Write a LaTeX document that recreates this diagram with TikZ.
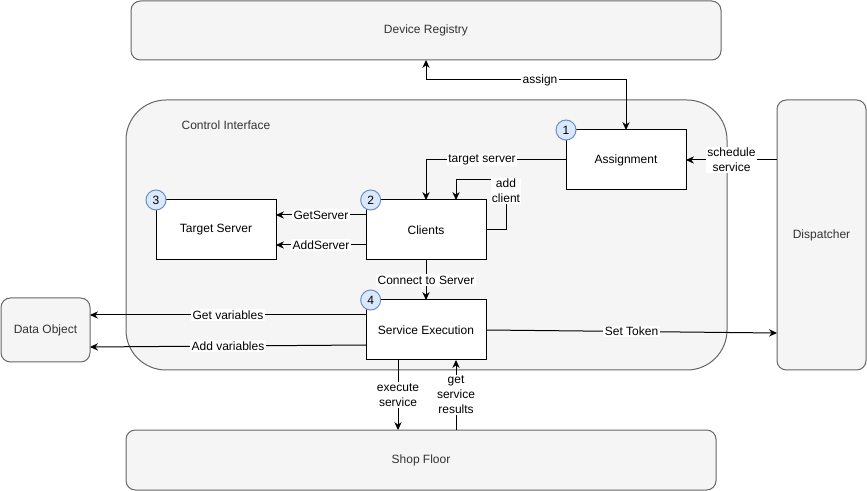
\documentclass[tikz,border=0pt]{standalone}
\usepackage{fontspec}
\setmainfont{Liberation Sans}
\usetikzlibrary{positioning}
\usetikzlibrary{arrows.meta}
\definecolor{panel}{HTML}{F5F5F5}
\definecolor{panelline}{HTML}{666666}
\definecolor{paneltext}{HTML}{333333}
\definecolor{badgefill}{HTML}{DAE8FC}
\definecolor{badgeline}{HTML}{6C8EBF}

\begin{document}
\begin{tikzpicture}[x=0.75pt, y=-0.75pt, line width=0.75pt, >={Stealth[length=6pt,width=5.5pt,inset=2pt]},
every node/.style={font=\fontsize{9}{11.25}\selectfont},
panel/.style={draw=panelline, fill=panel, text=paneltext, rounded corners=7pt, outer sep=0pt},
box/.style={draw, fill=white, minimum width=90pt, minimum height=45pt, outer sep=0pt},
badge/.style={circle, draw=badgeline, fill=badgefill, minimum size=15pt, inner sep=0pt},
lbl/.style={fill=white, inner sep=1pt, align=center}]

% background
\fill[white] (0,0) rectangle (867,491);
\useasboundingbox (0,0) rectangle (867,491);

% containers
\node [panel, minimum width=442.5pt, minimum height=44.25pt] (registry) at (426,30.5) {Device Registry};
\node [panel, rounded corners=30pt, minimum width=450.75pt, minimum height=202.5pt] (control) at (426.5,235) {};
\node [text=paneltext] (controllbl) at (226,125) {Control Interface};
\node [panel, minimum width=66.75pt, minimum height=202.5pt] (dispatch) at (821.5,235) {Dispatcher};
\node [panel, minimum width=66.75pt, minimum height=48pt] (dataobj) at (45.5,330) {Data Object};
\node [panel, minimum width=442.5pt, minimum height=45pt] (shop) at (421,460) {Shop Floor};

% boxes
\node [box] (assign) at (626,160) {Assignment};
\node [box] (tserver) at (216,230) {Target Server};
\node [box] (clients) at (426,230) {Clients};
\node [box] (exec) at (426,330) {Service Execution};

% badges
\node [badge] (b1) at (assign.north west) {1};
\node [badge, xshift=3.5pt] (b2) at (clients.north west) {2};
\node [badge] (b3) at (tserver.north west) {3};
\node [badge, xshift=3.5pt] (b4) at (exec.north west) {4};

% assign
\coordinate (asg) at (426,80);
\draw [<->] (registry.south -| clients) -- (asg) -| node [lbl, pos=0.285] {assign} (assign.north);

% target server
\draw [->] (assign.west) -| node [lbl, pos=0.3] {target server} (clients.north);

% add client
\coordinate (addr) at (506,180);
\coordinate (addl) at (456,180);
\draw [->] (clients.east) -| node [lbl, pos=0.89] {add\\client} (addr) -- (addl) -- (addl |- clients.north);

% schedule service
\draw [->] (dispatch.west |- assign) -- node [lbl] {schedule\\service} (assign.east);

% servers
\draw [->] ([yshift=11.25pt]clients.west) -- node [lbl] {GetServer} ([yshift=11.25pt]tserver.east);
\draw [->] ([yshift=-11.25pt]clients.west) -- node [lbl] {AddServer} ([yshift=-11.25pt]tserver.east);

% connect
\draw [->] (clients.south) -- node [lbl] {Connect to Server} (exec.north);

% variables
\draw [->] ([yshift=11.25pt]exec.west) -- node [lbl] {Get variables} ([yshift=11.25pt]dataobj.east);
\draw [->] ([yshift=-11.25pt]exec.west) -- node [lbl] {Add variables} ([yshift=-12.75pt]dataobj.east);

% token
\draw [->] (exec.east) -- node [lbl] {Set Token} ([yshift=-2.25pt]dispatch.west |- exec.east);

% shop floor
\draw [->] ([xshift=-21pt]exec.south) -- node [lbl] {execute\\service} ([xshift=-21pt]exec.south |- shop.north);
\draw [->] ([xshift=22.5pt]exec.south |- shop.north) -- node [lbl] {get\\service\\results} ([xshift=22.5pt]exec.south);

\end{tikzpicture}
\end{document}
